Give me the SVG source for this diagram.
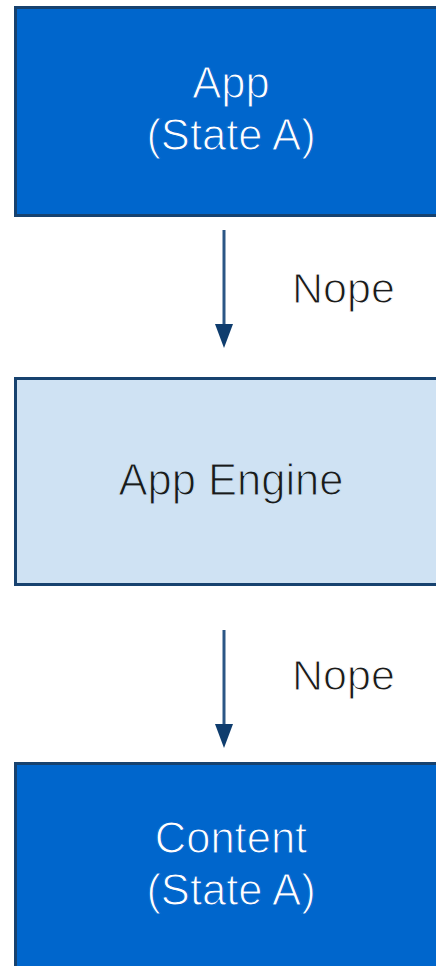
<svg xmlns="http://www.w3.org/2000/svg" width="436" height="966" viewBox="0 0 436 966">
  <style>
    .box { stroke: #17426f; stroke-width: 3; }
    .dark { fill: #0066cc; }
    .light { fill: #cfe2f3; }
    .lbl { font-family: "Liberation Sans", Arial, sans-serif; font-size: 43.5px; text-anchor: middle; stroke-width: 1.1; }
    .white { fill: #ffffff; stroke: #0066cc; }
    .black { fill: #1a1a1a; stroke: #cfe2f3; }
    .edge { stroke: #2b5685; stroke-width: 3; fill: none; marker-end: url(#arrow); }
    .elbl { font-family: "Liberation Sans", Arial, sans-serif; font-size: 43px; fill: #1a1a1a; stroke: #ffffff; stroke-width: 1.1; }
  </style>
  <defs>
    <marker id="arrow" markerWidth="8" markerHeight="8" refX="0" refY="4" orient="auto" markerUnits="strokeWidth">
      <path d="M0,1 L8,4 L0,7 Z" fill="#0f3d6e"/>
    </marker>
  </defs>
  <rect width="436" height="966" fill="#ffffff"/>

  <g id="app">
    <rect class="box dark" x="15.5" y="7.5" width="440" height="208"/>
    <text class="lbl white" x="231" y="98">App</text>
    <text class="lbl white" x="231" y="150">(State A)</text>
  </g>

  <g id="app-engine">
    <rect class="box light" x="15.5" y="378.5" width="440" height="206"/>
    <text class="lbl black" x="231" y="495">App Engine</text>
  </g>

  <g id="content">
    <rect class="box dark" x="15.5" y="763.5" width="440" height="220"/>
    <text class="lbl white" x="231" y="853">Content</text>
    <text class="lbl white" x="231" y="905">(State A)</text>
  </g>

  <g id="connectors">
    <line class="edge" x1="224" y1="230" x2="224" y2="324"/>
    <text class="elbl" x="292" y="303">Nope</text>
    <line class="edge" x1="224" y1="630" x2="224" y2="724"/>
    <text class="elbl" x="292" y="690">Nope</text>
  </g>
</svg>
